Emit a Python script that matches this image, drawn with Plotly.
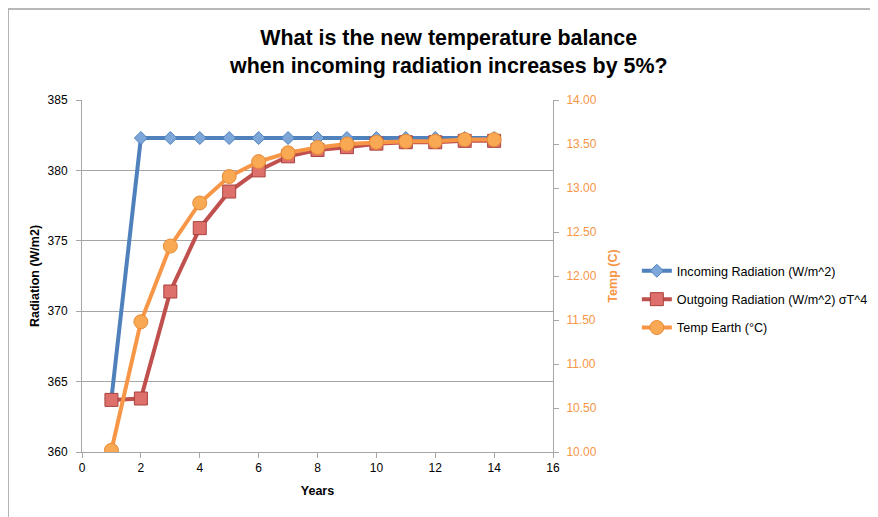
import plotly.graph_objects as go

years = list(range(1, 15))
incoming = [363.8, 382.3, 382.3, 382.3, 382.3, 382.3, 382.3, 382.3, 382.3, 382.3, 382.3, 382.3, 382.3, 382.3]
outgoing = [363.7, 363.8, 371.4, 375.9, 378.5, 380.0, 381.0, 381.45, 381.65, 381.9, 382.0, 382.0, 382.1, 382.1]
temp = [10.02, 11.48, 12.34, 12.83, 13.13, 13.30, 13.40, 13.46, 13.50, 13.52, 13.53, 13.53, 13.55, 13.55]

grid = "#A6A6A6"
orange = "#F79646"
font = "Liberation Sans"

fig = go.Figure()
fig.add_trace(go.Scatter(
    x=years, y=incoming, name="Incoming Radiation (W/m^2)", mode="lines+markers",
    legendgroup="a",
    line=dict(color="#4F81BD", width=4),
    marker=dict(symbol="diamond", size=10, color="#7DA7D9", line=dict(color="#4F81BD", width=1)),
))
fig.add_trace(go.Scatter(
    x=years, y=outgoing, name="Outgoing Radiation (W/m^2) σT^4", mode="lines+markers",
    legendgroup="b",
    line=dict(color="#C0504D", width=4),
    marker=dict(symbol="square", size=13, color="#DE706C", line=dict(color="#A8413E", width=1)),
))
fig.add_trace(go.Scatter(
    x=years, y=temp, name="Temp Earth (°C)", mode="lines+markers", yaxis="y2",
    legendgroup="c",
    line=dict(color=orange, width=4),
    marker=dict(symbol="circle", size=14, color="#F9A853", line=dict(color="#E88B35", width=1)),
))

fig.update_layout(
    width=878, height=517,
    paper_bgcolor="white", plot_bgcolor="white",
    margin=dict(l=74, r=333, t=92, b=73),
    font=dict(family=font, size=11.5, color="black"),
    title=dict(
        text="<b>What is the new temperature balance<br>when incoming radiation increases by 5%?</b>",
        x=0.502, xanchor="center", y=0.929, yanchor="top",
        font=dict(family=font, size=21.4, color="black"),
    ),
    xaxis=dict(
        range=[0, 16], dtick=2, showgrid=False, zeroline=False,
        showline=True, linecolor=grid, linewidth=1, ticks="outside", tickcolor=grid, ticklen=5,
        tickfont=dict(size=12),
        title=dict(text="<b>Years</b>", font=dict(size=12.5), standoff=11),
    ),
    yaxis=dict(
        range=[360, 385], dtick=5, showgrid=True, gridcolor=grid, gridwidth=1, zeroline=False,
        showline=True, linecolor=grid, linewidth=1, ticks="outside", tickcolor=grid, ticklen=5,
        tickfont=dict(size=12), ticklabelstandoff=6,
        title=dict(text="<b>Radiation (W/m2)</b>", font=dict(size=12.5), standoff=5),
    ),
    yaxis2=dict(
        range=[10, 14], dtick=0.5, tickformat=".2f", overlaying="y", side="right",
        showgrid=False, zeroline=False, showline=True, linecolor=grid, linewidth=1,
        ticks="outside", tickcolor=grid, ticklen=5, tickfont=dict(size=12, color=orange),
        ticklabelstandoff=5,
        title=dict(text="<b>Temp (C)</b>", font=dict(size=12.5, color=orange), standoff=12),
    ),
    legend=dict(
        x=1.178, xanchor="left", y=0.433, yanchor="middle", xref="paper", yref="paper",
        bgcolor="rgba(0,0,0,0)", font=dict(size=12.6), traceorder="grouped", tracegroupgap=9,
    ),
    showlegend=True,
)
fig.add_shape(type="line", xref="paper", yref="paper", x0=-0.157, x1=-0.157, y0=-0.2, y1=1.2585,
              line=dict(color="#A0A0A0", width=1.5))
fig.add_shape(type="line", xref="paper", yref="paper", x0=-0.157, x1=1.72, y0=1.2585, y1=1.2585,
              line=dict(color="#A0A0A0", width=1.5))

fig.write_html("out.html")
